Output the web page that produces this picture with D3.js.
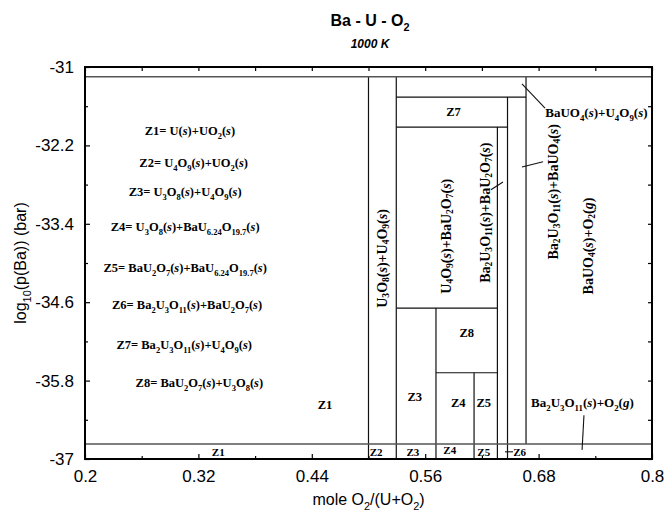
<!DOCTYPE html>
<html lang="en">
<head>
  <meta charset="UTF-8" />
  <title>Ba - U - O2 at 1000 K</title>
  <script src="https://d3js.org/d3.v7.min.js"></script>
  <style>
    body { margin: 0; background: #fff; }
    .axis text { font-family: 'Liberation Sans', Arial, sans-serif; font-size: 17px; fill: #000; }
    .axis line { stroke: #000; stroke-width: 1.2; }
    .axis path { display: none; }
    .lbl { font-family: 'Liberation Serif', 'Times New Roman', serif; font-weight: bold; fill: #000; }
  </style>
</head>
<body>
<svg id="chart" width="665" height="516"></svg>
<script>
// axis ticks
const xTicks = [0.2, 0.32, 0.44, 0.56, 0.68, 0.8];
const xMinor = [0.26, 0.38, 0.5, 0.62, 0.74];
const yTicks = [-31, -32.2, -33.4, -34.6, -35.8, -37];
const yMinor = [-31.6, -32.8, -34, -35.2, -36.4];

// phase boundaries: vertical [x, yFrom, yTo], horizontal [y, xFrom, xTo]
const vLines = [
  [0.5, -37, -31.15],
  [0.5294, -37, -31.15],
  [0.5714, -37, -34.69],
  [0.6117, -37, -35.68],
  [0.6364, -37, -31.92],
  [0.6471, -37, -31.46],
  [0.6667, -36.77, -31.15]
];
const hLines = [
  [-31.15, 0.2, 0.8],
  [-31.46, 0.5294, 0.6667],
  [-31.92, 0.5294, 0.6471],
  [-34.69, 0.5294, 0.6364],
  [-35.68, 0.5714, 0.6364],
  [-36.77, 0.2, 0.8]
];
// small pointer lines [x1, y1, x2, y2]
const pointers = [
  [0.6624, -31.26, 0.6868, -31.63],
  [0.6624, -32.53, 0.6847, -32.45],
  [0.6296, -32.88, 0.6423, -32.76],
  [0.7280, -36.33, 0.7260, -36.86],
  [0.6444, -36.89, 0.6529, -36.89]
];

// legend of zones (left side), centred
const legendText = [
  "Z1= U(s)+UO_2(s)",
  "Z2= U_4O_9(s)+UO_2(s)",
  "Z3= U_3O_8(s)+U_4O_9(s)",
  "Z4= U_3O_8(s)+BaU_6.24O_19.7(s)",
  "Z5= BaU_2O_7(s)+BaU_6.24O_19.7(s)",
  "Z6= Ba_2U_3O_11(s)+BaU_2O_7(s)",
  "Z7= Ba_2U_3O_11(s)+U_4O_9(s)",
  "Z8= BaU_2O_7(s)+U_3O_8(s)"
];
const legendX = [0.311, 0.315, 0.306, 0.306, 0.306, 0.308, 0.305, 0.321];
const legendY = [-31.98, -32.47, -32.92, -33.45, -34.08, -34.64, -35.26, -35.84];

// labels inside the diagram [text, x, y, anchor, rotated, size]
const regionLabels = [
  ["Z7", 0.590, -31.69, "middle", false, 12.5],
  ["Z8", 0.604, -35.07, "middle", false, 12.5],
  ["Z3", 0.549, -36.05, "middle", false, 12.5],
  ["Z4", 0.595, -36.13, "middle", false, 12.5],
  ["Z5", 0.622, -36.13, "middle", false, 12.5],
  ["Z1", 0.454, -36.17, "middle", false, 12.5],
  ["Z1", 0.341, -36.89, "middle", false, 11],
  ["Z2", 0.508, -36.89, "middle", false, 11],
  ["Z3", 0.547, -36.89, "middle", false, 11],
  ["Z4", 0.586, -36.87, "middle", false, 11],
  ["Z5", 0.622, -36.89, "middle", false, 11],
  ["Z6", 0.660, -36.89, "middle", false, 11],
  ["BaUO_4(s)+U_4O_9(s)", 0.687, -31.70, "start", false, 13],
  ["Ba_2U_3O_11(s)+O_2(g)", 0.672, -36.14, "start", false, 13],
  ["U_3O_8(s)+U_4O_9(s)", 0.514, -33.93, "middle", true, 14],
  ["U_4O_9(s)+BaU_2O_7(s)", 0.582, -33.59, "middle", true, 14],
  ["Ba_2U_3O_11(s)+BaU_2O_7(s)", 0.623, -33.23, "middle", true, 14],
  ["Ba_2U_3O_11(s)+BaUO_4(s)", 0.695, -32.91, "middle", true, 14],
  ["BaUO_4(s)+O_2(g)", 0.732, -33.74, "middle", true, 14]
];

const margin = { top: 67, right: 13, bottom: 57, left: 85 };
const W = 665, H = 516;
const svg = d3.select("#chart");

const x = d3.scaleLinear().domain([0.2, 0.8]).range([margin.left, W - margin.right]);
const y = d3.scaleLinear().domain([-37, -31]).range([H - margin.bottom, margin.top]);

// split "_digits" into subscripts and "(s)"/"(g)" into italics
function tokens(str) {
  const out = [];
  const re = /_([0-9.]+)|\(([sg])\)|([^_(]+|\()/g;
  let m;
  while ((m = re.exec(str))) {
    if (m[1]) out.push({ t: m[1], sub: true });
    else if (m[2]) { out.push({ t: "(" }); out.push({ t: m[2], it: true }); out.push({ t: ")" }); }
    else out.push({ t: m[3] });
  }
  return out;
}
function rich(textSel, str, size) {
  let down = false;
  tokens(str).forEach(tk => {
    const ts = textSel.append("tspan").text(tk.t);
    if (tk.sub) {
      if (!down) { ts.attr("dy", size * 0.3); down = true; }
      ts.attr("font-size", size * 0.68);
    } else if (down) {
      ts.attr("dy", -size * 0.3); down = false;
    }
    if (tk.it) ts.attr("font-style", "italic");
  });
}

// phase lines
svg.append("g").selectAll("line.v").data(vLines).join("line")
  .attr("x1", d => x(d[0])).attr("x2", d => x(d[0]))
  .attr("y1", d => y(d[1])).attr("y2", d => y(d[2]))
  .attr("stroke", "#111").attr("stroke-width", 1.2);
svg.append("g").selectAll("line.h").data(hLines).join("line")
  .attr("x1", d => x(d[1])).attr("x2", d => x(d[2]))
  .attr("y1", d => y(d[0])).attr("y2", d => y(d[0]))
  .attr("stroke", d => (d[1] === 0.2 ? "#555" : "#111"))
  .attr("stroke-width", d => (d[1] === 0.2 ? 1.5 : 1.2));
svg.append("g").selectAll("line").data(pointers).join("line")
  .attr("x1", d => x(d[0])).attr("y1", d => y(d[1]))
  .attr("x2", d => x(d[2])).attr("y2", d => y(d[3]))
  .attr("stroke", "#111").attr("stroke-width", 1.1);

// axes with inward ticks on all four sides
const xb = H - margin.bottom, yl = margin.left, xr = W - margin.right, xt = margin.top;
svg.append("g").attr("class", "axis").attr("transform", `translate(0,${xb})`)
  .call(d3.axisBottom(x).tickValues(xTicks).tickSize(-5).tickPadding(11).tickFormat(d => String(d)));
svg.append("g").attr("class", "axis").attr("transform", `translate(0,${xb})`)
  .call(d3.axisBottom(x).tickValues(xMinor).tickSize(-3).tickFormat(""));
svg.append("g").attr("class", "axis").attr("transform", `translate(0,${xt})`)
  .call(d3.axisTop(x).tickValues(xTicks.concat(xMinor)).tickSize(-4).tickFormat(""));
svg.append("g").attr("class", "axis").attr("transform", `translate(${yl},0)`)
  .call(d3.axisLeft(y).tickValues(yTicks).tickSize(-5).tickPadding(11).tickFormat(d => String(d)));
svg.append("g").attr("class", "axis").attr("transform", `translate(${yl},0)`)
  .call(d3.axisLeft(y).tickValues(yMinor).tickSize(-3).tickFormat(""));
svg.append("g").attr("class", "axis").attr("transform", `translate(${xr},0)`)
  .call(d3.axisRight(y).tickValues(yTicks.concat(yMinor)).tickSize(-4).tickFormat(""));

svg.append("rect")
  .attr("x", yl).attr("y", xt).attr("width", xr - yl).attr("height", xb - xt)
  .attr("fill", "none").attr("stroke", "#000").attr("stroke-width", 2);

// legend
legendText.forEach((s, i) => {
  const t = svg.append("text").attr("class", "lbl")
    .attr("x", x(legendX[i])).attr("y", y(legendY[i]) + 4)
    .attr("text-anchor", "middle").attr("font-size", 12.5);
  rich(t, s, 12.5);
});

// labels in regions
regionLabels.forEach(([s, lx, ly, anchor, rot, size]) => {
  const t = svg.append("text").attr("class", "lbl")
    .attr("text-anchor", anchor).attr("font-size", size)
    .attr("dominant-baseline", rot ? "central" : null)
    .attr("transform", rot ? `translate(${x(lx)},${y(ly)}) rotate(-90)` : `translate(${x(lx)},${y(ly) + size * 0.35})`);
  rich(t, s, size);
});

// titles
const titleFont = "'Liberation Sans', Arial, sans-serif";
const t1 = svg.append("text").attr("x", 370).attr("y", 26).attr("text-anchor", "middle")
  .attr("font-family", titleFont).attr("font-weight", "bold").attr("font-size", 16);
rich(t1, "Ba - U - O_2", 16);
svg.append("text").attr("x", 370).attr("y", 48).attr("text-anchor", "middle")
  .attr("font-family", titleFont).attr("font-weight", "bold").attr("font-style", "italic")
  .attr("font-size", 12).text("1000 K");

const xt1 = svg.append("text").attr("x", (yl + xr) / 2).attr("y", 505).attr("text-anchor", "middle")
  .attr("font-family", titleFont).attr("font-size", 16);
rich(xt1, "mole O_2/(U+O_2)", 16);

const yt1 = svg.append("text").attr("text-anchor", "middle")
  .attr("transform", `translate(26,${(xt + xb) / 2}) rotate(-90)`)
  .attr("font-family", titleFont).attr("font-size", 16);
rich(yt1, "log_10(p(Ba)) (bar)", 16);
</script>
</body>
</html>
